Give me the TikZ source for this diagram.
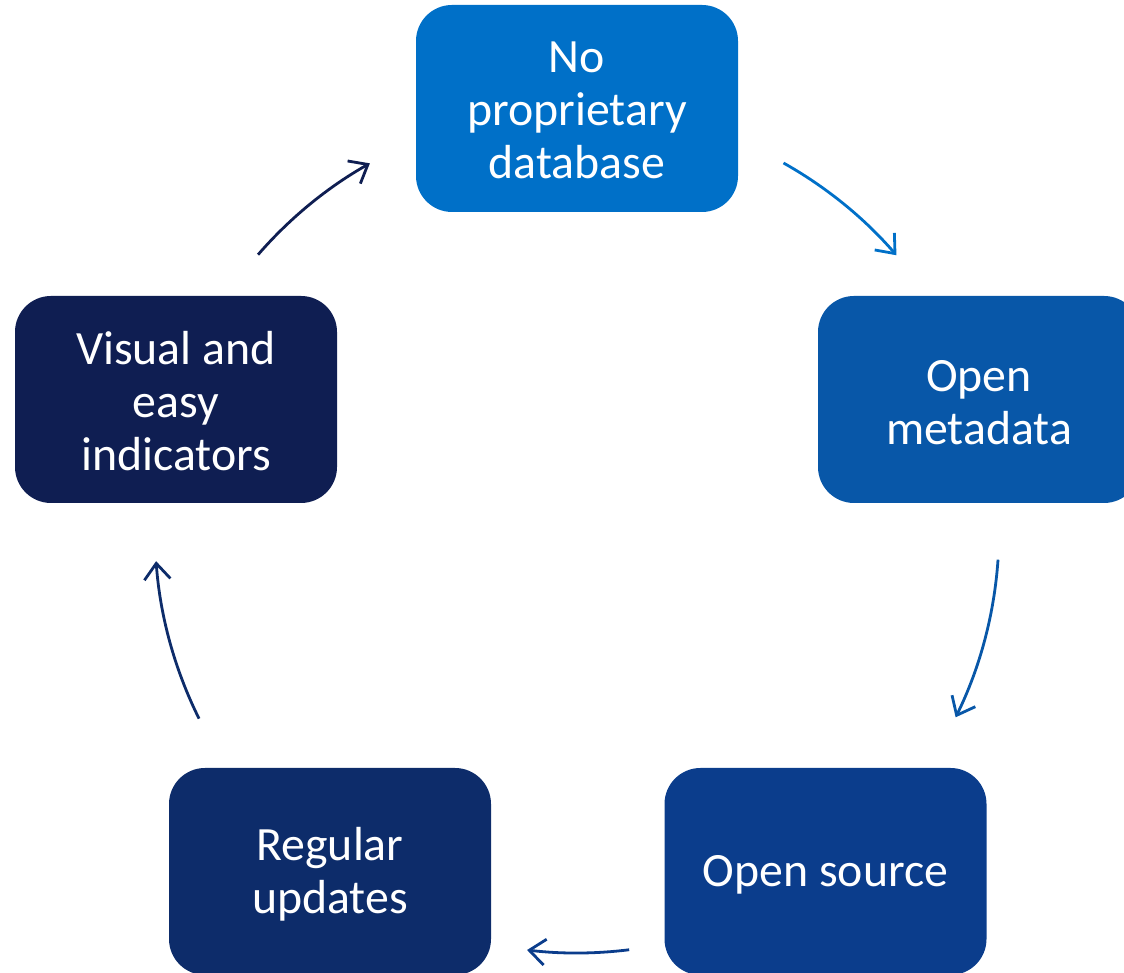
\documentclass[tikz,border=0pt]{standalone}
\usepackage{fontspec}
\setmainfont{Carlito}
\usetikzlibrary{arrows.meta,calc}
\definecolor{cA}{RGB}{0,112,200}
\definecolor{cB}{RGB}{8,87,168}
\definecolor{cC}{RGB}{11,61,140}
\definecolor{cD}{RGB}{13,44,106}
\definecolor{cE}{RGB}{15,30,82}
\tikzset{
  box/.style={rounded corners=36pt, minimum width=322pt, minimum height=207pt,
    inner sep=0pt},
  txt/.style={align=center, text=white, inner sep=0pt,
    font=\fontsize{47.8}{53}\selectfont},
  cyc/.style={line width=2.8pt, -{Straight Barb[length=16pt,width=26pt,line width=2.8pt]}}
}
\begin{document}
\begin{tikzpicture}[x=1pt,y=1pt]
\useasboundingbox (0,0) rectangle (1124,973);
\clip (0,0) rectangle (1124,973);
\node[box, fill=cA] (top) at (577,864.5) {};
\node[box, fill=cB] (right) at (979,573.5) {};
\node[box, fill=cC] (br) at (825.5,101.5) {};
\node[box, fill=cD] (bl) at (330,101.5) {};
\node[box, fill=cE] (left) at (176,573.5) {};
\node[txt] (ttop) at ([yshift=-2pt]top.center) {No\\proprietary\\database};
\node[txt] (tright) at ([yshift=-3pt]right.center) {Open\\metadata};
\node[txt] (tbr) at ([yshift=-3pt]br.center) {Open source};
\node[txt] (tbl) at ([yshift=-3pt]bl.center) {Regular\\updates};
\node[txt] (tleft) at ([yshift=-2pt]left.center) {Visual and\\easy\\indicators};
\coordinate (ctr) at (577,442);
\coordinate (s1) at ($(ctr)+(60.7:422)$);
\coordinate (s2) at ($(ctr)+(-3.9:422)$);
\coordinate (s3) at ($(ctr)+(-82.9:422)$);
\coordinate (s4) at ($(ctr)+(206.4:422)$);
\coordinate (s5) at ($(ctr)+(139.1:422)$);
\draw[cyc, cA] (s1) arc[start angle=60.7, end angle=40.8, radius=422];
\draw[cyc, cB] (s2) arc[start angle=-3.9, end angle=-26.2, radius=422];
\draw[cyc, cC] (s3) arc[start angle=-82.9, end angle=-96.8, radius=422];
\draw[cyc, cD] (s4) arc[start angle=206.4, end angle=184.1, radius=422];
\draw[cyc, cE] (s5) arc[start angle=139.1, end angle=119.4, radius=422];
\end{tikzpicture}
\end{document}
